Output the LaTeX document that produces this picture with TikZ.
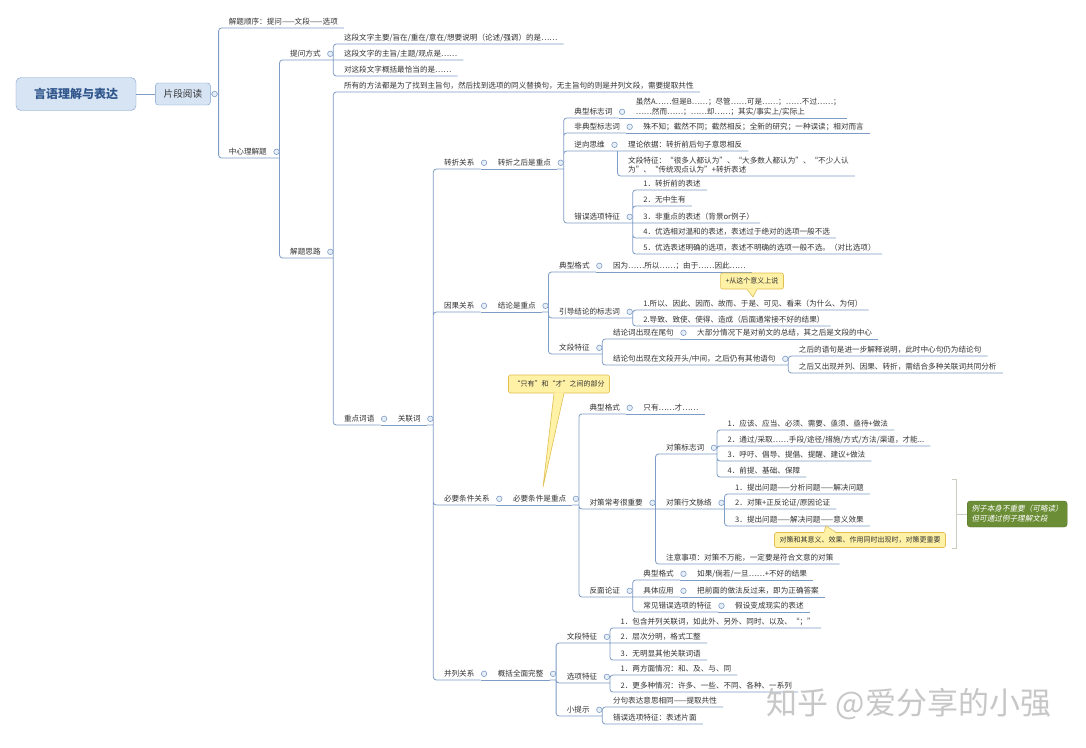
\documentclass[tikz,border=0pt]{standalone}
\usepackage{fontspec}
\setmainfont{Noto Sans CJK SC}
\newfontfamily\slantcjk[FakeSlant=0.2]{Noto Sans CJK SC}
\usepackage{tikz}
\usetikzlibrary{positioning,calc}
\definecolor{MapLine}{HTML}{7F9CC6}
\definecolor{MapText}{HTML}{333333}
\definecolor{MapFill}{HTML}{D7E4F4}
\definecolor{MapEdge}{HTML}{7F9FCB}
\definecolor{MapRoot}{HTML}{30568C}
\definecolor{NoteFill}{HTML}{FFF1A6}
\definecolor{NoteEdge}{HTML}{E0BE50}
\definecolor{SumFill}{HTML}{6B8D36}
\definecolor{SumEdge}{HTML}{557329}
\definecolor{SumLine}{HTML}{C9CEC0}
\tikzset{
  rootbox/.style={rectangle,rounded corners=5pt,draw=MapEdge,fill=MapFill,minimum width=120pt,minimum height=33pt,font=\fontsize{12}{14}\selectfont\bfseries,text=MapRoot},
  subbox/.style={rectangle,rounded corners=3pt,draw=MapEdge,fill=MapFill,minimum width=55pt,minimum height=22pt,font=\fontsize{9.6}{11}\selectfont,text=MapText},
  tp/.style={anchor=south west,inner xsep=6pt,inner ysep=2pt,text height=6.5pt,text depth=1.5pt,font=\fontsize{7.6}{9.5}\selectfont,text=MapText},
  link/.style={draw=MapLine,line width=0.8pt,rounded corners=3pt},
  fold/.style={circle,draw=MapLine,fill=MapFill!60!white,line width=0.6pt,minimum size=5.5pt,inner sep=0pt},
  notebox/.style={rectangle,rounded corners=2pt,draw=NoteEdge,fill=NoteFill,line width=0.6pt,minimum height=16pt,inner xsep=5pt,font=\fontsize{7}{8}\selectfont,text=MapText},
  noteline/.style={draw=NoteEdge,line width=0.6pt},
  sumbox/.style={rectangle,rounded corners=3pt,draw=SumEdge,fill=SumFill,minimum width=100pt,minimum height=26pt,align=left,font=\fontsize{7.6}{10}\slantcjk,text=white},
  sumline/.style={draw=SumLine,line width=0.8pt},
}

\begin{document}
\begin{tikzpicture}[x=1pt,y=-1pt]
  \path[use as bounding box,fill=white] (0,0) rectangle (1086,747);

  % Root
  \node[rootbox] (root) at (76,94) {言语理解与表达};
  \node[subbox, right=19pt of root] (pd) {片段阅读};

  % First level
  \node[tp, xshift=12pt, yshift=66pt] (order) at (pd.east) {解题顺序：提问——文段——选项};
  \node[tp, xshift=12pt, yshift=-64pt] (center) at (pd.east) {中心理解题};

  % 中心理解题
  \node[tp, xshift=11pt, yshift=98pt] (ask) at (center.south east) {提问方式};
  \node[tp, xshift=11pt, yshift=-100pt] (idea) at (center.south east) {解题思路};
  \node[tp, xshift=11pt, yshift=16pt] (ask1) at (ask.south east) {这段文字主要/旨在/重在/意在/想要说明（论述/强调）的是……};
  \node[tp, xshift=11pt] (ask2) at (ask.south east) {这段文字的主旨/主题/观点是……};
  \node[tp, xshift=11pt, yshift=-16pt] (ask3) at (ask.south east) {对这段文字概括最恰当的是……};
  \node[tp, xshift=11pt, yshift=166pt] (idea1) at (idea.south east) {所有的方法都是为了找到主旨句，然后找到选项的同义替换句，无主旨句的则是并列文段，需要提取共性};
  \node[tp, xshift=11pt, yshift=-167pt] (keyw) at (idea.south east) {重点词语};
  \node[tp, xshift=11pt] (conj) at (keyw.south east) {关联词};

  % Relations
  \node[tp, xshift=11pt, yshift=256pt] (turn) at (conj.south east) {转折关系};
  \node[tp, xshift=11pt, yshift=113pt] (cause) at (conj.south east) {因果关系};
  \node[tp, xshift=11pt, yshift=-80pt] (need) at (conj.south east) {必要条件关系};
  \node[tp, xshift=11pt, yshift=-255pt] (para) at (conj.south east) {并列关系};

  % 转折关系
  \node[tp, xshift=11pt] (turnk) at (turn.south east) {转折之后是重点};
  \node[tp, xshift=11pt, yshift=51pt] (tk1) at (turnk.south east) {典型标志词};
  \node[tp, xshift=11pt, yshift=36pt] (tk2) at (turnk.south east) {非典型标志词};
  \node[tp, xshift=11pt, yshift=18pt] (tk3) at (turnk.south east) {逆向思维};
  \node[tp, xshift=11pt, yshift=-54pt] (tk4) at (turnk.south east) {错误选项特征};
  \node[tp, xshift=11pt] (tk1a) at (tk1.south east) {\fontsize{7.6}{10}\selectfont\begin{tabular}[b]{@{}l@{}}虽然A……但是B……；尽管……可是……；……不过……；\\……然而……；……却……；其实/事实上/实际上\end{tabular}};
  \node[tp, xshift=11pt] (tk2a) at (tk2.south east) {殊不知；截然不同；截然相反；全新的研究；一种误读；相对而言};
  \node[tp, xshift=11pt] (tk3a) at (tk3.south east) {理论依据：转折前后句子意思相反};
  \node[tp, xshift=11pt, yshift=-25pt] (tk3b) at (tk3.south east) {\fontsize{7.6}{8.8}\selectfont\begin{tabular}[b]{@{}l@{}}文段特征：“很多人都认为”、“大多数人都认为”、“不少人认\\为”、“传统观点认为”+转折表述\end{tabular}};
  \node[tp, xshift=11pt, yshift=33pt] (tk4a) at (tk4.south east) {1．转折前的表述};
  \node[tp, xshift=11pt, yshift=17pt] (tk4b) at (tk4.south east) {2．无中生有};
  \node[tp, xshift=11pt] (tk4c) at (tk4.south east) {3．非重点的表述（背景or例子）};
  \node[tp, xshift=11pt, yshift=-15pt] (tk4d) at (tk4.south east) {4．优选相对温和的表述，表述过于绝对的选项一般不选};
  \node[tp, xshift=11pt, yshift=-31pt] (tk4e) at (tk4.south east) {5．优选表述明确的选项，表述不明确的选项一般不选。（对比选项）};

  % 因果关系
  \node[tp, xshift=11pt] (causek) at (cause.south east) {结论是重点};
  \node[tp, xshift=11pt, yshift=40pt] (ck1) at (causek.south east) {典型格式};
  \node[tp, xshift=11pt, yshift=-6pt] (ck2) at (causek.south east) {引导结论的标志词};
  \node[tp, xshift=11pt, yshift=-42pt] (ck3) at (causek.south east) {文段特征};
  \node[tp, xshift=11pt] (ck1a) at (ck1.south east) {因为……所以……；由于……因此……};
  \node[tp, xshift=11pt, yshift=8pt] (ck2a) at (ck2.south east) {1.所以、因此、因而、故而、于是、可见、看来（为什么、为何）};
  \node[tp, xshift=11pt, yshift=-8pt] (ck2b) at (ck2.south east) {2.导致、致使、使得、造成（后面通常接不好的结果）};
  \node[tp, xshift=11pt, yshift=15pt] (ck3a) at (ck3.south east) {结论词出现在尾句};
  \node[tp, xshift=11pt, yshift=-11pt] (ck3b) at (ck3.south east) {结论句出现在文段开头/中间，之后仍有其他语句};
  \node[tp, xshift=11pt] (ck3a1) at (ck3a.south east) {大部分情况下是对前文的总结，其之后是文段的中心};
  \node[tp, xshift=11pt, yshift=9pt] (ck3b1) at (ck3b.south east) {之后的语句是进一步解释说明，此时中心句仍为结论句};
  \node[tp, xshift=11pt, yshift=-8pt] (ck3b2) at (ck3b.south east) {之后又出现并列、因果、转折，需结合多种关联词共同分析};

  % 必要条件关系
  \node[tp, xshift=11pt] (needk) at (need.south east) {必要条件是重点};
  \node[tp, xshift=11pt, yshift=91pt] (nk1) at (needk.south east) {典型格式};
  \node[tp, xshift=11pt, yshift=-4pt] (nk2) at (needk.south east) {对策常考很重要};
  \node[tp, xshift=11pt, yshift=-92pt] (nk3) at (needk.south east) {反面论证};
  \node[tp, xshift=11pt] (nk1a) at (nk1.south east) {只有……才……};
  \node[tp, xshift=11pt, yshift=55pt] (nk2a) at (nk2.south east) {对策标志词};
  \node[tp, xshift=11pt] (nk2b) at (nk2.south east) {对策行文脉络};
  \node[tp, xshift=11pt, yshift=-55pt] (nk2c) at (nk2.south east) {注意事项：对策不万能，一定要是符合文意的对策};
  \node[tp, xshift=11pt, yshift=24pt] (nk2a1) at (nk2a.south east) {1．应该、应当、必须、需要、亟须、亟待+做法};
  \node[tp, xshift=11pt, yshift=8pt] (nk2a2) at (nk2a.south east) {2．通过/采取……手段/途径/措施/方式/方法/渠道，才能...};
  \node[tp, xshift=11pt, yshift=-7pt] (nk2a3) at (nk2a.south east) {3．呼吁、倡导、提倡、提醒、建议+做法};
  \node[tp, xshift=11pt, yshift=-23pt] (nk2a4) at (nk2a.south east) {4．前提、基础、保障};
  \node[tp, xshift=11pt, yshift=15pt] (nk2b1) at (nk2b.south east) {1．提出问题——分析问题——解决问题};
  \node[tp, xshift=11pt] (nk2b2) at (nk2b.south east) {2．对策+正反论证/原因论证};
  \node[tp, xshift=11pt, yshift=-17pt] (nk2b3) at (nk2b.south east) {3．提出问题——解决问题——意义效果};
  \node[tp, xshift=11pt, yshift=17pt] (nk3a) at (nk3.south east) {典型格式};
  \node[tp, xshift=11pt] (nk3b) at (nk3.south east) {具体应用};
  \node[tp, xshift=11pt, yshift=-15pt] (nk3c) at (nk3.south east) {常见错误选项的特征};
  \node[tp, xshift=11pt] (nk3a1) at (nk3a.south east) {如果/倘若/一旦……+不好的结果};
  \node[tp, xshift=11pt] (nk3b1) at (nk3b.south east) {把前面的做法反过来，即为正确答案};
  \node[tp, xshift=11pt] (nk3c1) at (nk3c.south east) {假设变成现实的表述};

  % 并列关系
  \node[tp, xshift=11pt] (parak) at (para.south east) {概括全面完整};
  \node[tp, xshift=11pt, yshift=37pt] (pk1) at (parak.south east) {文段特征};
  \node[tp, xshift=11pt, yshift=-3pt] (pk2) at (parak.south east) {选项特征};
  \node[tp, xshift=11pt, yshift=-36pt] (pk3) at (parak.south east) {小提示};
  \node[tp, xshift=11pt, yshift=15pt] (pk1a) at (pk1.south east) {1．包含并列关联词，如此外、另外、同时、以及、“；”};
  \node[tp, xshift=11pt] (pk1b) at (pk1.south east) {2．层次分明，格式工整};
  \node[tp, xshift=11pt, yshift=-17pt] (pk1c) at (pk1.south east) {3．无明显其他关联词语};
  \node[tp, xshift=11pt, yshift=8pt] (pk2a) at (pk2.south east) {1．两方面情况：和、及、与、同};
  \node[tp, xshift=11pt, yshift=-9pt] (pk2b) at (pk2.south east) {2．更多种情况：许多、一些、不同、各种、一系列};
  \node[tp, xshift=11pt, yshift=9pt] (pk3a) at (pk3.south east) {分句表达意思相同——提取共性};
  \node[tp, xshift=11pt, yshift=-8pt] (pk3b) at (pk3.south east) {错误选项特征：表述片面};

  % Connectors
  \draw[link] (root) -- (pd);
  \draw[link] (pd.east) -- ++(8,0)
    ([xshift=8pt]pd.east) |- (order.south east)
    ([xshift=8pt]pd.east) |- (center.south east);
  \draw[link] (center.south east) -- ++(6.5,0)
    ([xshift=6.5pt]center.south east) |- (ask.south east)
    ([xshift=6.5pt]center.south east) |- (idea.south east);
  \draw[link] (ask.south east) -- ++(6.5,0)
    ([xshift=6.5pt]ask.south east) |- (ask1.south east)
    ([xshift=6.5pt]ask.south east) -- (ask2.south east)
    ([xshift=6.5pt]ask.south east) |- (ask3.south east);
  \draw[link] (idea.south east) -- ++(6.5,0)
    ([xshift=6.5pt]idea.south east) |- (idea1.south east)
    ([xshift=6.5pt]idea.south east) |- (keyw.south east);
  \draw[link] (keyw.south east) -- (conj.south east);
  \draw[link] (conj.south east) -- ++(6.5,0)
    ([xshift=6.5pt]conj.south east) |- (turn.south east)
    ([xshift=6.5pt]conj.south east) |- (cause.south east)
    ([xshift=6.5pt]conj.south east) |- (need.south east)
    ([xshift=6.5pt]conj.south east) |- (para.south east);

  \draw[link] (turn.south east) -- (turnk.south east);
  \draw[link] (turnk.south east) -- ++(6.5,0)
    ([xshift=6.5pt]turnk.south east) |- (tk1.south east)
    ([xshift=6.5pt]turnk.south east) |- (tk2.south east)
    ([xshift=6.5pt]turnk.south east) |- (tk3.south east)
    ([xshift=6.5pt]turnk.south east) |- (tk4.south east);
  \draw[link] (tk1.south east) -- (tk1a.south east);
  \draw[link] (tk2.south east) -- (tk2a.south east);
  \draw[link] (tk3.south east) -- ++(6.5,0)
    ([xshift=6.5pt]tk3.south east) -- (tk3a.south east)
    ([xshift=6.5pt]tk3.south east) |- (tk3b.south east);
  \draw[link] (tk4.south east) -- ++(6.5,0)
    ([xshift=6.5pt]tk4.south east) |- (tk4a.south east)
    ([xshift=6.5pt]tk4.south east) |- (tk4b.south east)
    ([xshift=6.5pt]tk4.south east) -- (tk4c.south east)
    ([xshift=6.5pt]tk4.south east) |- (tk4d.south east)
    ([xshift=6.5pt]tk4.south east) |- (tk4e.south east);

  \draw[link] (cause.south east) -- (causek.south east);
  \draw[link] (causek.south east) -- ++(6.5,0)
    ([xshift=6.5pt]causek.south east) |- (ck1.south east)
    ([xshift=6.5pt]causek.south east) |- (ck2.south east)
    ([xshift=6.5pt]causek.south east) |- (ck3.south east);
  \draw[link] (ck1.south east) -- (ck1a.south east);
  \draw[link] (ck2.south east) -- ++(6.5,0)
    ([xshift=6.5pt]ck2.south east) |- (ck2a.south east)
    ([xshift=6.5pt]ck2.south east) |- (ck2b.south east);
  \draw[link] (ck3.south east) -- ++(6.5,0)
    ([xshift=6.5pt]ck3.south east) |- (ck3a.south east)
    ([xshift=6.5pt]ck3.south east) |- (ck3b.south east);
  \draw[link] (ck3a.south east) -- (ck3a1.south east);
  \draw[link] (ck3b.south east) -- ++(6.5,0)
    ([xshift=6.5pt]ck3b.south east) |- (ck3b1.south east)
    ([xshift=6.5pt]ck3b.south east) |- (ck3b2.south east);

  \draw[link] (need.south east) -- (needk.south east);
  \draw[link] (needk.south east) -- ++(6.5,0)
    ([xshift=6.5pt]needk.south east) |- (nk1.south east)
    ([xshift=6.5pt]needk.south east) |- (nk2.south east)
    ([xshift=6.5pt]needk.south east) |- (nk3.south east);
  \draw[link] (nk1.south east) -- (nk1a.south east);
  \draw[link] (nk2.south east) -- ++(6.5,0)
    ([xshift=6.5pt]nk2.south east) |- (nk2a.south east)
    ([xshift=6.5pt]nk2.south east) -- (nk2b.south east)
    ([xshift=6.5pt]nk2.south east) |- (nk2c.south east);
  \draw[link] (nk2a.south east) -- ++(6.5,0)
    ([xshift=6.5pt]nk2a.south east) |- (nk2a1.south east)
    ([xshift=6.5pt]nk2a.south east) |- (nk2a2.south east)
    ([xshift=6.5pt]nk2a.south east) |- (nk2a3.south east)
    ([xshift=6.5pt]nk2a.south east) |- (nk2a4.south east);
  \draw[link] (nk2b.south east) -- ++(6.5,0)
    ([xshift=6.5pt]nk2b.south east) |- (nk2b1.south east)
    ([xshift=6.5pt]nk2b.south east) -- (nk2b2.south east)
    ([xshift=6.5pt]nk2b.south east) |- (nk2b3.south east);
  \draw[link] (nk3.south east) -- ++(6.5,0)
    ([xshift=6.5pt]nk3.south east) |- (nk3a.south east)
    ([xshift=6.5pt]nk3.south east) -- (nk3b.south east)
    ([xshift=6.5pt]nk3.south east) |- (nk3c.south east);
  \draw[link] (nk3a.south east) -- (nk3a1.south east);
  \draw[link] (nk3b.south east) -- (nk3b1.south east);
  \draw[link] (nk3c.south east) -- (nk3c1.south east);

  \draw[link] (para.south east) -- (parak.south east);
  \draw[link] (parak.south east) -- ++(6.5,0)
    ([xshift=6.5pt]parak.south east) |- (pk1.south east)
    ([xshift=6.5pt]parak.south east) |- (pk2.south east)
    ([xshift=6.5pt]parak.south east) |- (pk3.south east);
  \draw[link] (pk1.south east) -- ++(6.5,0)
    ([xshift=6.5pt]pk1.south east) |- (pk1a.south east)
    ([xshift=6.5pt]pk1.south east) -- (pk1b.south east)
    ([xshift=6.5pt]pk1.south east) |- (pk1c.south east);
  \draw[link] (pk2.south east) -- ++(6.5,0)
    ([xshift=6.5pt]pk2.south east) |- (pk2a.south east)
    ([xshift=6.5pt]pk2.south east) |- (pk2b.south east);
  \draw[link] (pk3.south east) -- ++(6.5,0)
    ([xshift=6.5pt]pk3.south east) |- (pk3a.south east)
    ([xshift=6.5pt]pk3.south east) |- (pk3b.south east);

  % Fold markers
  \node[fold] (pd-f) at ([xshift=4pt]pd.east) {};
  \node[fold] (center-f) at ([xshift=3.5pt]center.east) {};
  \node[fold] (ask-f) at ([xshift=3.5pt]ask.east) {};
  \node[fold] (idea-f) at ([xshift=3.5pt]idea.east) {};
  \node[fold] (keyw-f) at ([xshift=3.5pt]keyw.east) {};
  \node[fold] (conj-f) at ([xshift=3.5pt]conj.east) {};
  \node[fold] (turn-f) at ([xshift=3.5pt]turn.east) {};
  \node[fold] (turnk-f) at ([xshift=3.5pt]turnk.east) {};
  \node[fold] (tk1-f) at ([xshift=3.5pt]tk1.east) {};
  \node[fold] (tk2-f) at ([xshift=3.5pt]tk2.east) {};
  \node[fold] (tk3-f) at ([xshift=3.5pt]tk3.east) {};
  \node[fold] (tk4-f) at ([xshift=3.5pt]tk4.east) {};
  \node[fold] (cause-f) at ([xshift=3.5pt]cause.east) {};
  \node[fold] (causek-f) at ([xshift=3.5pt]causek.east) {};
  \node[fold] (ck1-f) at ([xshift=3.5pt]ck1.east) {};
  \node[fold] (ck2-f) at ([xshift=3.5pt]ck2.east) {};
  \node[fold] (ck3-f) at ([xshift=3.5pt]ck3.east) {};
  \node[fold] (ck3a-f) at ([xshift=3.5pt]ck3a.east) {};
  \node[fold] (ck3b-f) at ([xshift=3.5pt]ck3b.east) {};
  \node[fold] (need-f) at ([xshift=3.5pt]need.east) {};
  \node[fold] (needk-f) at ([xshift=3.5pt]needk.east) {};
  \node[fold] (nk1-f) at ([xshift=3.5pt]nk1.east) {};
  \node[fold] (nk2-f) at ([xshift=3.5pt]nk2.east) {};
  \node[fold] (nk2a-f) at ([xshift=3.5pt]nk2a.east) {};
  \node[fold] (nk2b-f) at ([xshift=3.5pt]nk2b.east) {};
  \node[fold] (nk3-f) at ([xshift=3.5pt]nk3.east) {};
  \node[fold] (nk3a-f) at ([xshift=3.5pt]nk3a.east) {};
  \node[fold] (nk3b-f) at ([xshift=3.5pt]nk3b.east) {};
  \node[fold] (nk3c-f) at ([xshift=3.5pt]nk3c.east) {};
  \node[fold] (para-f) at ([xshift=3.5pt]para.east) {};
  \node[fold] (parak-f) at ([xshift=3.5pt]parak.east) {};
  \node[fold] (pk1-f) at ([xshift=3.5pt]pk1.east) {};
  \node[fold] (pk2-f) at ([xshift=3.5pt]pk2.east) {};
  \node[fold] (pk3-f) at ([xshift=3.5pt]pk3.east) {};

  % Notes
  \node[notebox] (note1) at (752,281) {+从这个意义上说};
  \coordinate (note1tip) at (753,297);
  \fill[NoteFill] ([xshift=-5pt,yshift=1pt]note1.south) -- (note1tip) -- ([xshift=5pt,yshift=1pt]note1.south) -- cycle;
  \draw[noteline] ([xshift=-5pt]note1.south) -- (note1tip) -- ([xshift=5pt]note1.south);

  \node[notebox, minimum height=18pt] (note2) at (559,384) {“只有”和“才”之间的部分};
  \coordinate (note2tip) at (543,487);
  \fill[NoteFill] ([xshift=-5pt,yshift=1pt]note2.south) -- (note2tip) -- ([xshift=5pt,yshift=1pt]note2.south) -- cycle;
  \draw[noteline] ([xshift=-5pt]note2.south) -- (note2tip) -- ([xshift=5pt]note2.south);

  \node[notebox, minimum height=15pt] (note3) at (860,540) {对策和其意义、效果、作用同时出现时，对策更重要};
  \coordinate (note3tip) at (826,526);
  \fill[NoteFill] ([xshift=-36pt,yshift=-1pt]note3.north) -- (note3tip) -- ([xshift=-24pt,yshift=-1pt]note3.north) -- cycle;
  \draw[noteline] ([xshift=-36pt]note3.north) -- (note3tip) -- ([xshift=-24pt]note3.north);

  % Summary
  \coordinate (sumtop) at (952,479);
  \coordinate (sumbot) at (952,548);
  \coordinate (summid) at (956,514);
  \draw[sumline] (sumtop) -- ++(4,0) -- ([xshift=4pt]sumbot) -- (sumbot);
  \node[sumbox, right=11pt of summid] (sum) {例子本身不重要（可略读）\\但可通过例子理解文段};
  \draw[sumline] (summid) -- (sum);

  % Watermark
  \node[font=\fontsize{31}{31}\selectfont, text=black!22] (mark) at (909,704) {知乎 @爱分享的小强};
\end{tikzpicture}
\end{document}
